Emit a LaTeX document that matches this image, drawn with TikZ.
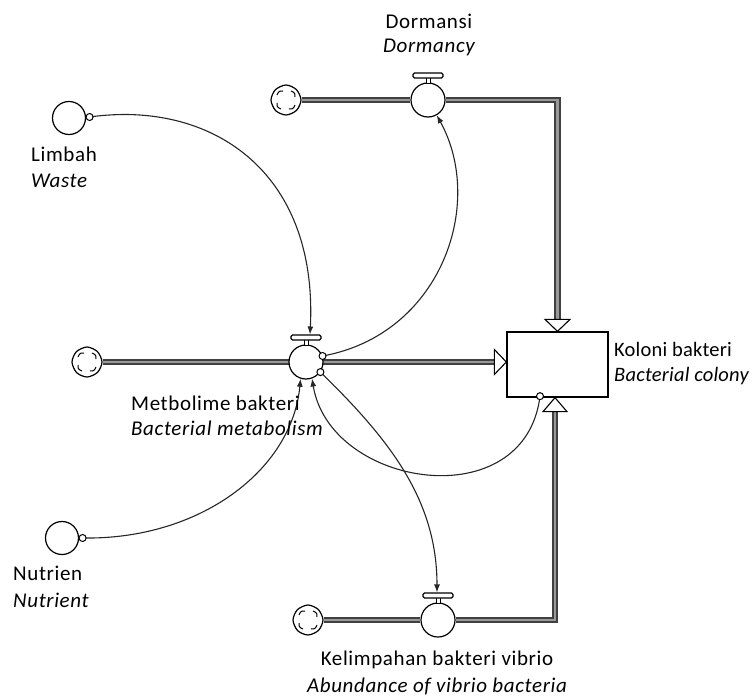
\documentclass[tikz,border=0pt]{standalone}
\usepackage{fontspec}
\setmainfont{Carlito}[LetterSpace=3.0]
\usetikzlibrary{arrows.meta,backgrounds,calc}
\begin{document}
\begin{tikzpicture}[x=1pt,y=-1pt,
  conv/.style={circle,draw,fill=white,line width=1.2pt,minimum size=33pt,inner sep=0pt},
  valvec/.style={circle,draw,fill=white,line width=1.2pt,minimum size=34pt,inner sep=0pt},
  vbar/.style={rectangle,draw,fill=white,line width=1.1pt,minimum width=30pt,minimum height=5pt,inner sep=0pt,rounded corners=1.5pt},
  vstem/.style={rectangle,draw,fill=white,line width=1pt,minimum width=4pt,minimum height=6pt,inner sep=0pt},
  stockbox/.style={rectangle,draw,fill=white,line width=1.3pt,minimum width=101pt,minimum height=65pt,inner sep=0pt},
  cloudn/.style={circle,minimum size=31pt,inner sep=0pt},
  pipe/.style={line width=2.4pt,draw=black!40,line join=miter,preaction={draw=black!75,line width=6.5pt}},
  conn/.style={line width=1.1pt,draw=black!85,-{Latex[length=8pt,width=6pt]}},
  tailc/.style={circle,draw,fill=white,line width=1pt,minimum size=7pt,inner sep=0pt},
  pipehead/.style={draw,fill=white,line width=1.1pt,line join=miter},
  lab/.style={font=\fontsize{21}{25}\selectfont,inner sep=0pt},
  labk/.style={font=\fontsize{20.5}{25}\selectfont\addfontfeature{LetterSpace=1.0},inner sep=0pt},
  cloudpic/.pic={
    \draw[line width=1.2pt,fill=white] plot[smooth cycle] coordinates{(15,0) (10.4,-10.4) (0,-15) (-10.6,-10.3) (-15,0) (-10.4,10.6) (0,15) (10.5,10.4)};
    \draw[line width=1pt] (-3,-9) .. controls (-7,-9) .. (-9,-5);
    \draw[line width=1pt] (9,-3) .. controls (9,-7) .. (5,-9);
    \draw[line width=1pt] (3,9) .. controls (7,9) .. (9,5);
    \draw[line width=1pt] (-9,3) .. controls (-9,7) .. (-5,9);
  }
]
\useasboundingbox (0,0) rectangle (755,698);

% stock and valves
\node[stockbox] (kol) at (557.5,364.5) {};
\node[valvec] (vdorm) at (428,100) {};
\node[valvec] (vmet) at (306,362) {};
\node[valvec] (vkel) at (438,620) {};
\foreach \v in {vdorm,vmet,vkel}{
  \node[vstem] (\v st) at ($(\v)+(0,-19.5)$) {};
  \node[vbar] (\v bar) at ($(\v)+(0,-24.5)$) {};
}
% clouds
\node[cloudn] (cl1) at (286,100) {};
\node[cloudn] (cl2) at (87,362) {};
\node[cloudn] (cl3) at (308,620) {};
\foreach \c in {cl1,cl2,cl3}{ \pic at (\c) {cloudpic}; }
% converters
\node[conv] (limbah) at (69,118) {};
\node[conv] (nutr) at (62,538) {};

% pipes
\begin{pgfonlayer}{background}
\fill[white] (0,0) rectangle (755,698);
\draw[pipe] (cl1) -- (vdorm) -| ($(kol.north)+(0,-12)$);
\draw[pipe] (cl2) -- ($(cl2 -| kol.west)+(-12,0)$);
\draw[pipe] (cl3) -- (vkel) -| ($(kol.south)+(-2.5,14)$);
\end{pgfonlayer}
% pipe arrowheads
\draw[pipehead] ($(kol.north)+(-12.5,-12)$) -- ($(kol.north)+(12.5,-12)$) -- (kol.north) -- cycle;
\draw[pipehead] ($(cl2 -| kol.west)+(-12,-12.5)$) -- ($(cl2 -| kol.west)+(-12,12.5)$) -- (cl2 -| kol.west) -- cycle;
\draw[pipehead] ($(kol.south)+(-14.5,14)$) -- ($(kol.south)+(9.5,14)$) -- ($(kol.south)+(-2.5,0)$) -- cycle;

% connectors
\coordinate (t1) at ($(limbah.east)+(3.5,-1)$);
\coordinate (t3) at ($(kol.south)+(-17.5,-1.5)$);
\coordinate (t4) at ($(nutr.east)+(3.5,0)$);
\draw[conn] (t1) .. controls (210,100) and (318,170) .. ($(vmetbar.north)+(4,0)$);
\draw[conn] (vmet.20) .. controls (440,335) and (486,205) .. (vdorm.-60);
\draw[conn] (t3) .. controls (525,518) and (330,488) .. (vmet.-70);
\draw[conn] (t4) .. controls (200,540) and (292,470) .. (vmet.-108);
\draw[conn] (vmet.-35) .. controls (390,440) and (437,500) .. ($(vkelbar.north)+(-1,0)$);
\node[tailc] (tail1) at (t1) {};
\node[tailc] (tail2) at (vmet.20) {};
\node[tailc] (tail3) at (t3) {};
\node[tailc] (tail4) at (t4) {};
\node[tailc] (tail5) at (vmet.-35) {};

% labels
\node[lab,anchor=base] (ldorm1) at (429,29) {Dormansi};
\node[lab,anchor=base] (ldorm2) at (429,53) {\itshape Dormancy};
\node[lab,anchor=base west] (llim1) at (31,161) {Limbah};
\node[lab,anchor=base west] (llim2) at (31,187) {\itshape Waste};
\node[lab,anchor=base west] (lmet1) at (131,410) {Metbolime bakteri};
\node[lab,anchor=base west] (lmet2) at (131,435) {\itshape Bacterial metabolism};
\node[labk,anchor=base west] (lkol1) at (614,356) {Koloni bakteri};
\node[labk,anchor=base west] (lkol2) at (614,381) {\itshape Bacterial colony};
\node[lab,anchor=base west] (lnut1) at (13,580) {Nutrien};
\node[lab,anchor=base west] (lnut2) at (13,607) {\itshape Nutrient};
\node[lab,anchor=base] (lkel1) at (437,665) {Kelimpahan bakteri vibrio};
\node[lab,anchor=base] (lkel2) at (437,692) {\itshape Abundance of vibrio bacteria};
\end{tikzpicture}
\end{document}
